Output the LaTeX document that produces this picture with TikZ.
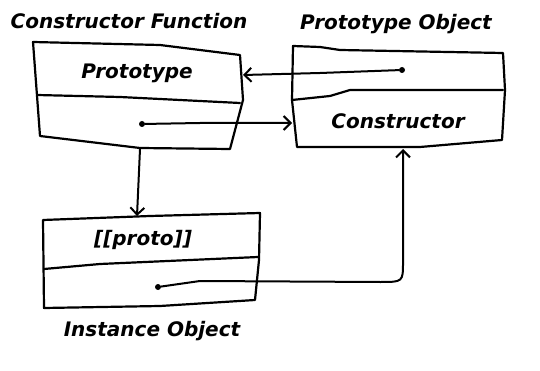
\documentclass[tikz,border=0pt]{standalone}
\usepackage{fontspec}
\setmainfont{DejaVu Sans}
\usetikzlibrary{arrows.meta}
\begin{document}
\begin{tikzpicture}[x=1pt,y=-1pt,
  ink/.style={line width=2.2pt,line join=round,line cap=round},
  conn/.style={line width=2pt,line cap=round},
  tip/.style={-{Straight Barb[length=7pt,width=14pt,line width=2pt]}},
  lbl/.style={font=\fontsize{20}{22}\selectfont\bfseries\itshape,inner sep=0pt},
  dotc/.style={circle,fill=black,inner sep=0pt,minimum size=6pt}]
\path[use as bounding box] (0,0) rectangle (540,371);
% Constructor Function box
\coordinate (a1) at (33,42); \coordinate (a2) at (240,55);
\coordinate (a3) at (230,149); \coordinate (a4) at (40,136);
\draw[ink] (a1) -- (160,45) -- (a2) -- (243,100) -- (a3) -- (140,148) -- (a4) -- cycle;
\draw[ink] (37,95) -- (120,97) -- (240,103);
\node[lbl] (cf) at (129,21) {Constructor Function};
\node[lbl] (pt) at (137,73) {Prototype};
\node[dotc] (d1) at (142,124) {};
% Prototype Object box
\coordinate (b1) at (293,46); \coordinate (b2) at (503,53);
\coordinate (b3) at (502,140); \coordinate (b4) at (297,147);
\draw[ink] (b1) -- (320,47) -- (340,50) -- (b2) -- (505,90) -- (b3) -- (420,147) -- (b4) -- (292,100) -- cycle;
\draw[ink] (292,100) -- (330,96) -- (350,90) -- (503,90);
\node[lbl] (po) at (396,24) {Prototype Object};
\node[lbl] (ct) at (398,121) {Constructor};
\node[dotc] (d2) at (402,70) {};
% Instance Object box
\coordinate (c1) at (43,220); \coordinate (c2) at (260,213);
\coordinate (c3) at (255,300); \coordinate (c4) at (44,308);
\draw[ink] (c1) -- (150,216) -- (c2) -- (259,260) -- (c3) -- (160,306) -- (c4) -- cycle;
\draw[ink] (44,269) -- (100,264) -- (258,257);
\node[lbl] (pr) at (143,240) {[[proto]]};
\node[lbl] (io) at (152,331) {Instance Object};
\node[dotc] (d3) at (158,287) {};
% connectors
\coordinate (e1) at (292,123);
\coordinate (e2) at (243,75);
\coordinate (s3) at (140,149);
\coordinate (e3) at (137,216);
\coordinate (e4) at (403,149);
\draw[conn,tip] (d1) -- (200,123) -- (e1);
\draw[conn,tip] (d2) -- (320,73) -- (e2);
\draw[conn,tip] (s3) -- (e3);
\draw[conn,tip] (d3) -- (200,281) -- (380,282) .. controls (403,282) .. (403,262) -- (e4);
\end{tikzpicture}
\end{document}
